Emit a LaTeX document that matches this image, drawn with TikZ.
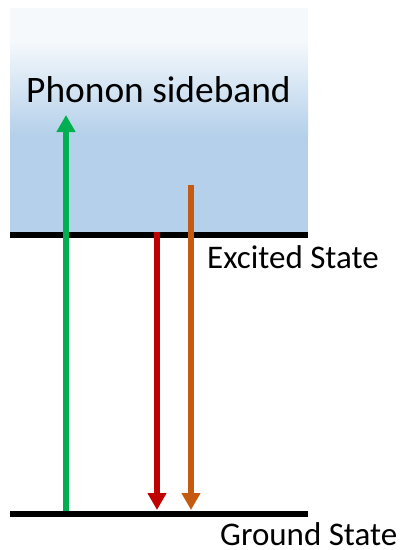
\documentclass[tikz,border=0pt]{standalone}
\usepackage{fontspec}
\setmainfont{Carlito}
\usetikzlibrary{arrows.meta}
\definecolor{bandtop}{RGB}{245,249,252}
\definecolor{bandbot}{RGB}{180,208,234}
\definecolor{pgreen}{RGB}{0,176,80}
\definecolor{pred}{RGB}{192,0,0}
\definecolor{porange}{RGB}{197,90,17}
\tikzset{
  level/.style={line width=6pt, black},
  trans/.style={line width=5.5pt, -{Triangle[length=17pt,width=18pt]}},
  lbl/.style={anchor=base west, inner sep=0pt, font=\fontsize{33}{38}\selectfont},
  title/.style={anchor=base west, inner sep=0pt, font=\fontsize{37.4}{44}\selectfont}
}
\begin{document}
\begin{tikzpicture}[x=1pt,y=-1pt]
\useasboundingbox (0,0) rectangle (400,550);
% phonon band background
\fill[bandtop] (10,8) rectangle (308,41);
\shade[top color=bandtop, bottom color=bandbot, shading=axis] (10,40) rectangle (308,136);
\fill[bandbot] (10,135) rectangle (308,235);
% coordinates
\coordinate (exL) at (10,235);
\coordinate (exR) at (308,235);
\coordinate (grL) at (10,514);
\coordinate (grR) at (308,514);
\coordinate (gStart) at (66,511);
\coordinate (gEnd) at (66,115);
\coordinate (rStart) at (157,232);
\coordinate (rEnd) at (157,510);
\coordinate (oStart) at (191,185);
\coordinate (oEnd) at (191,510);
% levels
\draw[level] (exL) -- (exR);
\draw[level] (grL) -- (grR);
% transitions
\draw[trans, pgreen] (gStart) -- (gEnd);
\draw[trans, pred] (rStart) -- (rEnd);
\draw[trans, porange] (oStart) -- (oEnd);
% labels
\node[title] (band) at (26,102) {Phonon sideband};
\node[lbl] (exc) at (207,268) {Excited State};
\node[lbl] (gnd) at (220,545) {Ground State};
\end{tikzpicture}
\end{document}
